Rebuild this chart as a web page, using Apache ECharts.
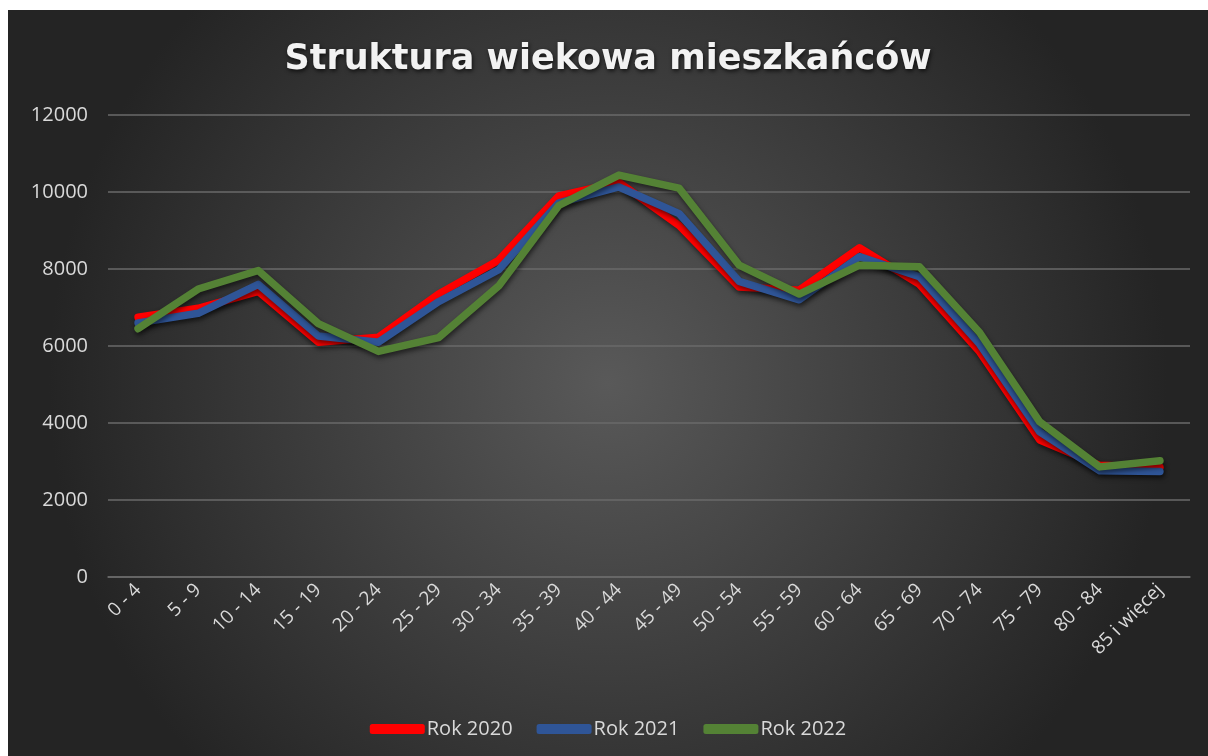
<!DOCTYPE html>
<html>
<head>
<meta charset="utf-8">
<script src="https://cdn.jsdelivr.net/npm/echarts@6/dist/echarts.min.js"></script>
<style>
html,body{margin:0;padding:0;background:#fff;}
#chart{position:absolute;left:8px;top:10px;width:1200px;height:746px;}
</style>
</head>
<body>
<div id="chart"></div>
<script>
const categories = ["0 - 4","5 - 9","10 - 14","15 - 19","20 - 24","25 - 29","30 - 34","35 - 39","40 - 44","45 - 49","50 - 54","55 - 59","60 - 64","65 - 69","70 - 74","75 - 79","80 - 84","85 i więcej"];
const rok2020 = [6750, 6980, 7420, 6100, 6230, 7350, 8230, 9900, 10250, 9130, 7530, 7450, 8550, 7600, 5850, 3560, 2900, 2850];
const rok2021 = [6600, 6850, 7600, 6260, 6100, 7150, 7980, 9720, 10130, 9440, 7680, 7200, 8320, 7800, 6050, 3770, 2760, 2740];
const rok2022 = [6450, 7480, 7960, 6580, 5860, 6220, 7560, 9650, 10440, 10100, 8100, 7350, 8100, 8060, 6350, 4030, 2860, 3020];
const yTicks = [0, 2000, 4000, 6000, 8000, 10000, 12000];

const FONT = '"Open Sans", sans-serif';
const chart = echarts.init(document.getElementById('chart'));
function mk(name, data, color) {
  return {
    name, type: 'line', data, symbol: 'none', smooth: false,
    lineStyle: { color, width: 7.5, join: 'round', cap: 'round',
      shadowColor: 'rgba(0,0,0,0.55)', shadowBlur: 5, shadowOffsetX: 1, shadowOffsetY: 3 },
    itemStyle: { color },
    emphasis: { disabled: true }
  };
}
chart.setOption({
  animation: false,
  backgroundColor: {
    type: 'radial', x: 0.5, y: 0.5, r: 0.75,
    colorStops: [{ offset: 0, color: '#595959' }, { offset: 1, color: '#242424' }]
  },
  title: {
    text: 'Struktura wiekowa mieszkańców',
    left: 'center', top: 27,
    textStyle: {
      color: '#f2f2f2', fontFamily: '"DejaVu Sans", sans-serif', fontWeight: 'bold', fontSize: 35,
      textShadowColor: 'rgba(0,0,0,0.7)', textShadowBlur: 4, textShadowOffsetX: 1, textShadowOffsetY: 2
    }
  },
  legend: {
    bottom: 12, left: 'center', itemWidth: 55, itemHeight: 10, itemGap: 24,
    icon: 'roundRect',
    textStyle: { color: '#d9d9d9', fontFamily: FONT, fontSize: 20, padding: [0, 0, 0, -3] },
    data: ['Rok 2020', 'Rok 2021', 'Rok 2022']
  },
  grid: { left: 100, right: 18, top: 105, bottom: 179, containLabel: false },
  xAxis: {
    type: 'category', data: categories, boundaryGap: true,
    axisLine: { lineStyle: { color: '#6a6a6a', width: 1.5 } },
    axisTick: { show: false },
    axisLabel: { color: '#d9d9d9', fontFamily: FONT, fontSize: 19, rotate: 45, interval: 0, margin: 10 }
  },
  yAxis: {
    type: 'value', min: yTicks[0], max: yTicks[yTicks.length - 1], interval: 2000,
    axisLine: { show: false }, axisTick: { show: false },
    splitLine: { lineStyle: { color: '#6a6a6a', width: 1.5 } },
    axisLabel: { color: '#d9d9d9', fontFamily: FONT, fontSize: 20, margin: 20, formatter: v => String(v) }
  },
  series: [mk('Rok 2020', rok2020, '#FF0000'), mk('Rok 2021', rok2021, '#2F5597'), mk('Rok 2022', rok2022, '#548235')]
});
</script>
</body>
</html>
